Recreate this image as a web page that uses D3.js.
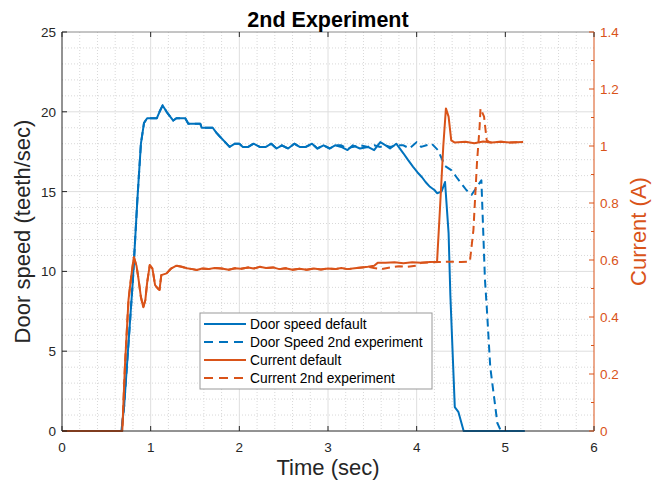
<!DOCTYPE html>
<html>
<head>
<meta charset="utf-8">
<script src="https://cdn.jsdelivr.net/npm/d3@7"></script>
<style>
  body { margin: 0; background: #fff; }
  svg { font-family: "Liberation Sans", Arial, sans-serif; }
</style>
</head>
<body>
<svg id="chart" width="662" height="483"></svg>
<script>
// [time (sec), door speed (teeth/sec)]
const speedDefault = [
    [0, 0], [0.67, 0], [0.70, 1.5], [0.75, 5.5], [0.80, 9.5], [0.85, 14.5], [0.89, 18.0],
    [0.925, 19.3], [0.96, 19.6], [1.07, 19.6], [1.10, 20.0], [1.135, 20.4], [1.18, 20.0],
    [1.22, 19.7], [1.255, 19.45], [1.29, 19.6], [1.39, 19.6], [1.425, 19.25], [1.56, 19.25],
    [1.575, 19.0], [1.70, 19.0], [1.74, 18.7], [1.78, 18.45], [1.84, 18.1], [1.89, 17.8],
    [1.95, 18.0], [2.00, 18.0], [2.04, 17.8], [2.10, 17.8], [2.16, 18.0], [2.23, 17.8],
    [2.30, 17.8], [2.36, 18.0], [2.42, 17.7], [2.48, 17.9], [2.55, 17.7], [2.62, 18.0],
    [2.68, 17.8], [2.75, 17.8], [2.82, 18.0], [2.88, 17.7], [2.95, 17.9], [3.02, 17.7],
    [3.08, 17.9], [3.15, 17.8], [3.22, 17.6], [3.28, 17.9], [3.36, 17.7], [3.45, 17.8],
    [3.52, 17.6], [3.59, 18.1], [3.65, 17.9], [3.70, 17.7], [3.77, 18.0], [3.85, 17.4],
    [3.90, 17.0], [3.96, 16.55], [4.01, 16.2], [4.06, 15.9], [4.10, 15.6], [4.15, 15.3],
    [4.20, 15.1], [4.23, 14.9], [4.28, 15.0], [4.32, 15.6], [4.36, 12.4], [4.38, 8.5],
    [4.43, 1.5], [4.47, 1.2], [4.53, 0], [5.22, 0]
]

const speedExp2Tail = [
    [3.15, 17.9], [3.22, 17.7], [3.28, 17.8], [3.36, 17.9], [3.45, 17.8], [3.52, 17.9],
    [3.59, 17.8], [3.65, 17.9], [3.70, 17.8], [3.77, 17.9], [3.85, 17.9], [3.92, 17.7],
    [4.00, 18.1], [4.05, 17.8], [4.11, 17.9], [4.17, 18.0], [4.24, 17.6], [4.32, 16.6],
    [4.39, 16.35], [4.45, 15.9], [4.56, 15.1], [4.62, 14.8], [4.68, 15.3], [4.73, 15.7],
    [4.77, 9.5], [4.79, 7.8], [4.83, 4.0], [4.91, 0.5], [4.95, 0], [5.2, 0]
]
const speedExp2 = speedDefault.filter(d => d[0] < 3.15).concat(speedExp2Tail)

// [time (sec), current (A)]
const currentDefault = [
    [0, 0], [0.68, 0], [0.71, 0.23], [0.75, 0.46], [0.78, 0.54], [0.81, 0.61], [0.84, 0.58],
    [0.86, 0.54], [0.89, 0.47], [0.917, 0.434], [0.94, 0.46], [0.96, 0.52], [0.99, 0.582],
    [1.02, 0.57], [1.05, 0.512], [1.08, 0.50], [1.10, 0.495], [1.12, 0.547], [1.18, 0.553],
    [1.23, 0.57], [1.29, 0.58], [1.35, 0.576], [1.41, 0.571], [1.47, 0.568], [1.52, 0.565],
    [1.58, 0.57], [1.65, 0.568], [1.72, 0.572], [1.80, 0.57], [1.88, 0.566], [1.95, 0.571],
    [2.02, 0.569], [2.10, 0.574], [2.16, 0.57], [2.23, 0.576], [2.30, 0.572], [2.38, 0.574],
    [2.45, 0.568], [2.52, 0.571], [2.60, 0.566], [2.68, 0.569], [2.76, 0.566], [2.84, 0.570],
    [2.92, 0.567], [3.00, 0.570], [3.08, 0.568], [3.15, 0.572], [3.22, 0.568], [3.30, 0.571],
    [3.38, 0.574], [3.45, 0.576], [3.52, 0.58], [3.56, 0.59], [3.65, 0.59], [3.75, 0.592],
    [3.85, 0.589], [3.95, 0.592], [4.05, 0.59], [4.15, 0.593], [4.23, 0.594], [4.26, 0.764],
    [4.30, 0.998], [4.33, 1.132], [4.36, 1.103], [4.39, 1.02], [4.43, 1.012], [4.55, 1.015],
    [4.65, 1.01], [4.75, 1.016], [4.85, 1.012], [4.95, 1.015], [5.05, 1.012], [5.2, 1.014]
]

const currentExp2Tail = [
    [3.52, 0.572], [3.60, 0.568], [3.70, 0.574], [3.80, 0.578], [3.90, 0.576], [4.00, 0.58],
    [4.05, 0.59], [4.15, 0.592], [4.25, 0.593], [4.38, 0.594], [4.50, 0.593], [4.60, 0.594],
    [4.64, 0.705], [4.68, 0.94], [4.71, 1.068], [4.72, 1.132], [4.76, 1.103], [4.79, 1.02],
    [4.83, 1.012], [4.95, 1.015], [5.05, 1.012], [5.2, 1.014]
]
const currentExp2 = currentDefault.filter(d => d[0] <= 3.45).concat(currentExp2Tail)

const xTicks = [0, 1, 2, 3, 4, 5, 6]
const yLeftTicks = [0, 5, 10, 15, 20, 25]
const yRightTicks = [0, 0.2, 0.4, 0.6, 0.8, 1, 1.2, 1.4]
const legendLabels = ['Door speed default', 'Door Speed 2nd experiment', 'Current default', 'Current 2nd experiment']

const WIDTH = 662
const HEIGHT = 483
const margin = { left: 62, right: 68, top: 32, bottom: 52 }
const BLUE = '#0072BD'
const ORANGE = '#D95319'
const AXIS = '#262626'

const svg = d3.select('#chart')
const x = d3.scaleLinear().domain([0, 6]).range([margin.left, WIDTH - margin.right])
const yL = d3.scaleLinear().domain([0, 25]).range([HEIGHT - margin.bottom, margin.top])
const yR = d3.scaleLinear().domain([0, 1.4]).range([HEIGHT - margin.bottom, margin.top])

const x0 = x.range()[0], x1 = x.range()[1]
const yb = yL.range()[0], yt = yL.range()[1]

// grid: minor dotted, major solid
const grid = svg.append('g')
grid.selectAll('.mx').data(d3.range(0, 6.01, 0.2).filter(v => Math.abs(v - Math.round(v)) > 1e-6))
    .join('line')
    .attr('x1', d => x(d)).attr('x2', d => x(d)).attr('y1', yt).attr('y2', yb)
    .attr('stroke', '#d8d8d8').attr('stroke-dasharray', '1,2').attr('stroke-width', 1)
grid.selectAll('.my').data(d3.range(0, 25.01, 1).filter(v => v % 5 !== 0))
    .join('line')
    .attr('x1', x0).attr('x2', x1).attr('y1', d => yL(d)).attr('y2', d => yL(d))
    .attr('stroke', '#d8d8d8').attr('stroke-dasharray', '1,2').attr('stroke-width', 1)
grid.append('g').selectAll('line').data(xTicks.slice(1, -1))
    .join('line')
    .attr('x1', d => x(d)).attr('x2', d => x(d)).attr('y1', yt).attr('y2', yb)
    .attr('stroke', '#dedede').attr('stroke-width', 1)
grid.append('g').selectAll('line').data(yLeftTicks.slice(1, -1))
    .join('line')
    .attr('x1', x0).attr('x2', x1).attr('y1', d => yL(d)).attr('y2', d => yL(d))
    .attr('stroke', '#dedede').attr('stroke-width', 1)

// lines
const lineL = d3.line().x(d => x(d[0])).y(d => yL(d[1]))
const lineR = d3.line().x(d => x(d[0])).y(d => yR(d[1]))

const series = [
    { data: speedDefault, line: lineL, color: BLUE, dash: null },
    { data: speedExp2, line: lineL, color: BLUE, dash: '8,5' },
    { data: currentDefault, line: lineR, color: ORANGE, dash: null },
    { data: currentExp2, line: lineR, color: ORANGE, dash: '8,5' }
]

svg.append('g').selectAll('path').data(series)
    .join('path')
    .attr('d', d => d.line(d.data))
    .attr('fill', 'none')
    .attr('stroke', d => d.color)
    .attr('stroke-width', 2)
    .attr('stroke-linejoin', 'round')
    .attr('stroke-dasharray', d => d.dash)

// axes
const axes = svg.append('g')
axes.append('line').attr('x1', x0).attr('x2', x1).attr('y1', yt).attr('y2', yt).attr('stroke', '#8a8a8a')
axes.append('line').attr('x1', x0).attr('x2', x1).attr('y1', yb).attr('y2', yb).attr('stroke', AXIS)
axes.append('line').attr('x1', x0).attr('x2', x0).attr('y1', yt).attr('y2', yb).attr('stroke', AXIS)
axes.append('line').attr('x1', x1).attr('x2', x1).attr('y1', yt).attr('y2', yb).attr('stroke', ORANGE)

// x ticks (inside, top and bottom)
axes.append('g').selectAll('line').data(xTicks)
    .join('line')
    .attr('x1', d => x(d)).attr('x2', d => x(d)).attr('y1', yb).attr('y2', yb - 5)
    .attr('stroke', AXIS)
axes.append('g').selectAll('line').data(xTicks)
    .join('line')
    .attr('x1', d => x(d)).attr('x2', d => x(d)).attr('y1', yt).attr('y2', yt + 5)
    .attr('stroke', AXIS)
axes.append('g').selectAll('text').data(xTicks)
    .join('text')
    .attr('x', d => x(d)).attr('y', yb + 21)
    .attr('text-anchor', 'middle').attr('font-size', 13.5).attr('fill', AXIS)
    .text(d => d)

// left ticks
axes.append('g').selectAll('line').data(yLeftTicks)
    .join('line')
    .attr('x1', x0).attr('x2', x0 + 5).attr('y1', d => yL(d)).attr('y2', d => yL(d))
    .attr('stroke', AXIS)
axes.append('g').selectAll('text').data(yLeftTicks)
    .join('text')
    .attr('x', x0 - 6).attr('y', d => yL(d) + 5)
    .attr('text-anchor', 'end').attr('font-size', 13.5).attr('fill', AXIS)
    .text(d => d)

// right ticks
axes.append('g').selectAll('line').data(d3.range(0, 1.41, 0.1))
    .join('line')
    .attr('x1', x1).attr('x2', (d, i) => x1 - (i % 2 === 0 ? 5 : 3)).attr('y1', d => yR(d)).attr('y2', d => yR(d))
    .attr('stroke', ORANGE)
axes.append('g').selectAll('text').data(yRightTicks)
    .join('text')
    .attr('x', x1 + 6).attr('y', d => yR(d) + 5)
    .attr('text-anchor', 'start').attr('font-size', 13.5).attr('fill', ORANGE)
    .text(d => d)

// labels
svg.append('text')
    .attr('x', (x0 + x1) / 2).attr('y', 27)
    .attr('text-anchor', 'middle').attr('font-size', 21.5).attr('font-weight', 'bold').attr('fill', '#000')
    .text('2nd Experiment')
svg.append('text')
    .attr('x', (x0 + x1) / 2).attr('y', 475)
    .attr('text-anchor', 'middle').attr('font-size', 22).attr('fill', AXIS)
    .text('Time (sec)')
svg.append('text')
    .attr('transform', `translate(30, ${(yt + yb) / 2}) rotate(-90)`)
    .attr('text-anchor', 'middle').attr('font-size', 22).attr('fill', AXIS)
    .text('Door speed (teeth/sec)')
svg.append('text')
    .attr('transform', `translate(646, ${(yt + yb) / 2}) rotate(-90)`)
    .attr('text-anchor', 'middle').attr('font-size', 22).attr('fill', ORANGE)
    .text('Current (A)')

// legend
const legend = svg.append('g').attr('transform', 'translate(200, 313)')
legend.append('rect')
    .attr('width', 232).attr('height', 76)
    .attr('fill', '#fff').attr('stroke', '#999').attr('stroke-width', 1)
legend.selectAll('g.item').data(series)
    .join('g')
    .attr('transform', (d, i) => `translate(0, ${11 + i * 18})`)
    .each(function (d, i) {
        const g = d3.select(this)
        g.append('line')
            .attr('x1', 4).attr('x2', 46).attr('y1', 0).attr('y2', 0)
            .attr('stroke', d.color).attr('stroke-width', 2)
            .attr('stroke-dasharray', d.dash ? '9,6' : null)
        g.append('text')
            .attr('x', 50).attr('y', 5)
            .attr('font-size', 13.8).attr('fill', '#000')
            .text(legendLabels[i])
    })
</script>
</body>
</html>
